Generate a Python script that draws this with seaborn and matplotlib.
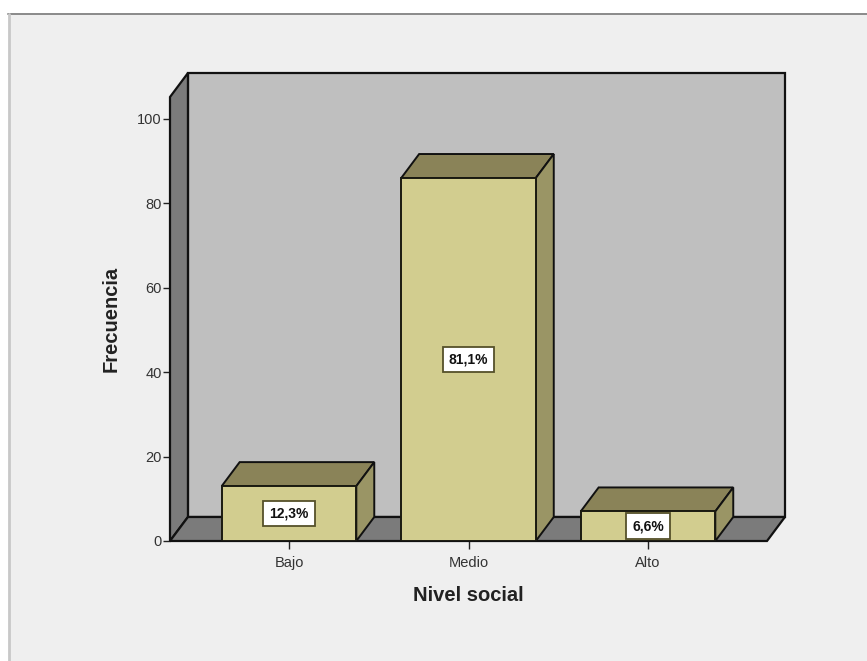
import matplotlib
matplotlib.use("Agg")
import matplotlib.pyplot as plt
from matplotlib.patches import Polygon, Rectangle
import pandas as pd
import seaborn as sns

# Survey counts by social level
categories = ["Bajo", "Medio", "Alto"]
counts = [13, 86, 7]
percent_labels = ["12,3%", "81,1%", "6,6%"]
y_ticks = [0, 20, 40, 60, 80, 100]

W, H = 867, 661
BAR_FACE = "#d2cd8f"
BAR_TOP = "#8a8358"
BAR_SIDE = "#9a9565"
WALL_BACK = "#bfbfbf"
WALL_DARK = "#7b7b7b"
PANEL = "#efefef"

sns.set_theme(style="white")
plt.rcParams["font.family"] = ["Liberation Sans", "DejaVu Sans"]

fig = plt.figure(figsize=(W / 100, H / 100), dpi=100, facecolor="white")

# Grey chart panel running to the right and bottom edges
fig.add_artist(Rectangle((9 / W, 0), 1 - 9 / W, 1 - 14 / H, transform=fig.transFigure,
                         facecolor=PANEL, edgecolor="none", zorder=-5))
fig.add_artist(plt.Line2D([8 / W, 1], [1 - 14 / H, 1 - 14 / H], color="#8a8a8a", lw=1.4))
fig.add_artist(plt.Line2D([9 / W, 9 / W], [0, 1 - 14 / H], color="#c8c8c8", lw=2))

ax = fig.add_axes([170 / W, 1 - 541 / H, 597 / W, 444 / H])
ax.patch.set_alpha(0)
ax.set_xlim(-0.663, 2.663)
ax.set_ylim(0, 105.2)

# Oblique depth of the 3D box, in data units
DX, DY = 0.1, 5.69
x0, x1 = ax.get_xlim()
y0, y1 = ax.get_ylim()

def face(points, color, z, lw=1.6):
    ax.add_patch(Polygon(points, closed=True, facecolor=color, edgecolor="#111111",
                         lw=lw, clip_on=False, zorder=z, joinstyle="miter"))

# Back wall, left wall and floor
face([(x0 + DX, y0 + DY), (x1 + DX, y0 + DY), (x1 + DX, y1 + DY), (x0 + DX, y1 + DY)], WALL_BACK, 0.5)
face([(x0, y0), (x0 + DX, y0 + DY), (x0 + DX, y1 + DY), (x0, y1)], WALL_DARK, 0.6)
face([(x0, y0), (x1, y0), (x1 + DX, y0 + DY), (x0 + DX, y0 + DY)], WALL_DARK, 0.6)

data = pd.DataFrame({"nivel": categories, "frecuencia": counts})
sns.barplot(data=data, x="nivel", y="frecuencia", order=categories, color=BAR_FACE,
            saturation=1, width=0.75, edgecolor="#1a1a10", linewidth=1.4, ax=ax, zorder=3)
ax.set_xlim(x0, x1)
ax.set_ylim(y0, y1)

# Top and side faces of each bar, then its percentage box
half = 0.75 / 2
for i, (value, text) in enumerate(zip(counts, percent_labels)):
    left, right = i - half, i + half
    face([(left, value), (right, value), (right + DX, value + DY), (left + DX, value + DY)], BAR_TOP, 2.5, 1.4)
    face([(right, 0), (right + DX, DY), (right + DX, value + DY), (right, value)], BAR_SIDE, 2.5, 1.4)
    ax.text(i, value / 2, text, ha="center", va="center", fontsize=10, fontweight="bold",
            color="#111111", zorder=5,
            bbox=dict(boxstyle="square,pad=0.42", facecolor="white", edgecolor="#55502a", lw=1.3))

for side in ax.spines.values():
    side.set_visible(False)
ax.set_yticks(y_ticks)
ax.set_xticks(range(len(categories)), categories)
ax.tick_params(axis="x", length=6, width=1, color="#222222", labelcolor="#333333",
               labelsize=10.5, pad=5, bottom=True)
ax.tick_params(axis="y", length=5, width=1, color="#222222", labelcolor="#333333",
               labelsize=10.5, pad=1, left=True)
ax.set_xlabel("Nivel social", fontsize=14.5, fontweight="bold", color="#222222", labelpad=11)
ax.set_ylabel("Frecuencia", fontsize=14.5, fontweight="bold", color="#222222", labelpad=12)

fig.savefig("out.png", dpi=100, facecolor="white")
